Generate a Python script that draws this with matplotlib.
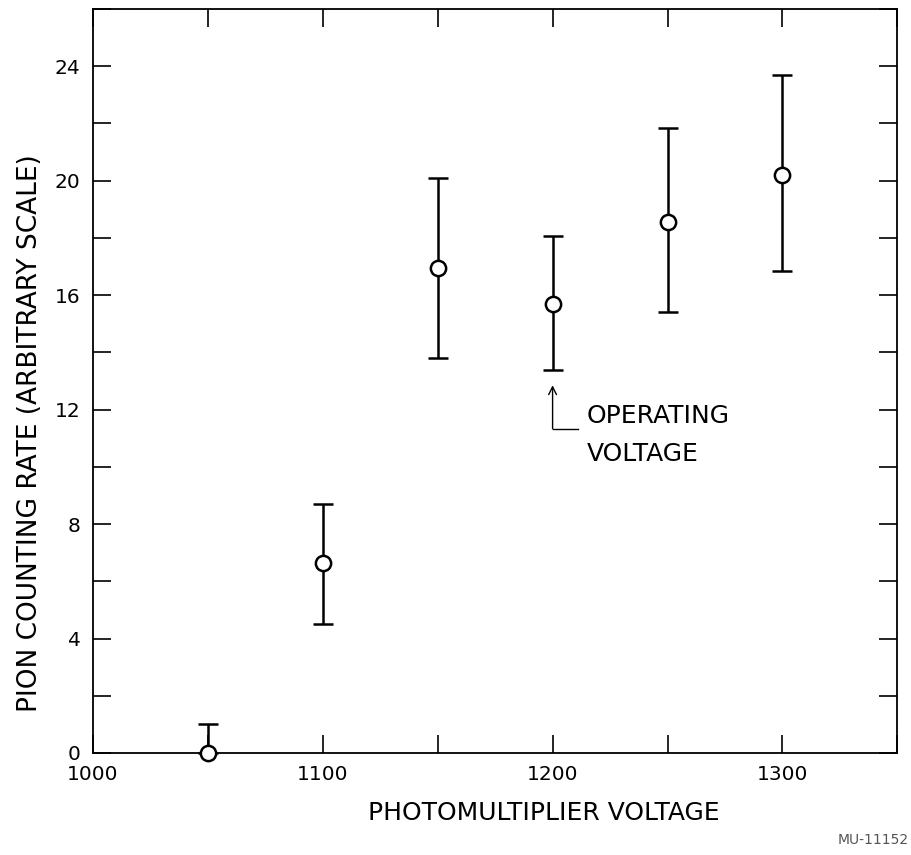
import matplotlib
matplotlib.use('Agg')
from matplotlib import pyplot as plt

# photomultiplier voltage and pion counting rate
voltage = [1050, 1100, 1150, 1200, 1250, 1300]
rate = [0.0, 6.65, 16.95, 15.7, 18.55, 20.2]
rate_low = [0.0, 4.5, 13.8, 13.4, 15.4, 16.85]
rate_high = [1.0, 8.7, 20.1, 18.05, 21.85, 23.7]

x_ticks = [1000, 1100, 1200, 1300]
y_ticks = [0, 4, 8, 12, 16, 20, 24]

operating_voltage = 1200

plt.rcParams['font.family'] = ['DejaVu Sans']

fig = plt.figure(figsize=(9.11, 8.55), dpi=100)
ax = fig.add_axes([0.102, 0.1193, 0.883, 0.8702])

err_low = [r - lo for r, lo in zip(rate, rate_low)]
err_high = [hi - r for r, hi in zip(rate, rate_high)]
ax.errorbar(voltage, rate, yerr=[err_low, err_high], fmt='o', color='black',
            mfc='white', mec='black', ms=11, mew=1.8, elinewidth=1.8,
            capsize=7, capthick=1.8, clip_on=False, zorder=3)

ax.set_xlim(1000, 1350)
ax.set_ylim(0, 26)

x_all = list(range(1000, 1351, 50))
y_all = list(range(0, 27, 2))
ax.set_xticks(x_all)
ax.set_xticklabels([str(v) if v in x_ticks else '' for v in x_all])
ax.set_yticks(y_all)
ax.set_yticklabels([str(v) if v in y_ticks else '' for v in y_all])
ax.tick_params(direction='in', length=13, width=1.2, top=True, right=True,
               labelsize=14.5, pad=9)

for s in ax.spines.values():
    s.set_linewidth(1.3)

ax.set_xlabel('PHOTOMULTIPLIER VOLTAGE', fontsize=18)
ax.xaxis.set_label_coords(0.56, -0.064)
ax.set_ylabel('PION COUNTING RATE (ARBITRARY SCALE)', fontsize=19)
ax.yaxis.set_label_coords(-0.062, 0.43)

# operating voltage marker
arrow_tip, arrow_base = 12.85, 11.33
ax.annotate('', xy=(operating_voltage, arrow_tip), xytext=(operating_voltage, arrow_base),
            arrowprops=dict(arrowstyle='->', lw=1.0, color='black', mutation_scale=14,
                            shrinkA=0, shrinkB=0))
ax.plot([operating_voltage, operating_voltage + 11], [arrow_base, arrow_base],
        color='black', lw=1.0)
ax.text(operating_voltage + 15, 11.1, 'OPERATING\nVOLTAGE', fontsize=18,
        va='center', ha='left', linespacing=1.75)

fig.text(0.958, 0.017, 'MU-11152', fontsize=10, color='#555555', ha='center', va='center')

fig.savefig('out.png', dpi=100)
